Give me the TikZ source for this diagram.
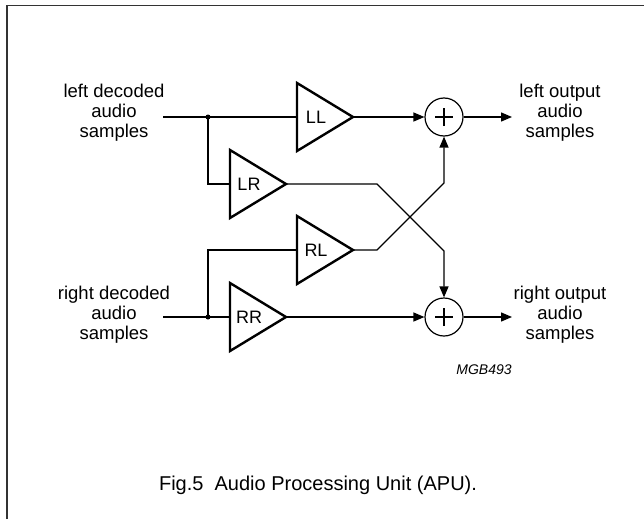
\documentclass[tikz,border=0pt]{standalone}
\usepackage{fontspec}
\setmainfont{Liberation Sans}
\usetikzlibrary{arrows.meta}
\begin{document}
\begin{tikzpicture}[x=1pt,y=-1pt,
  wire/.style={line width=1.3pt},
  ampline/.style={line width=2.4pt, line join=miter},
  arr/.style={wire,-{Triangle[length=11pt,width=9pt]}},
  dot/.style={circle,fill,inner sep=0pt,minimum size=5pt},
  sum/.style={circle,draw,line width=1.2pt,minimum size=38pt,inner sep=0pt,
    path picture={\draw[line width=1.1pt]
      ([xshift=-9pt]path picture bounding box.center) -- ([xshift=9pt]path picture bounding box.center)
      ([yshift=-9pt]path picture bounding box.center) -- ([yshift=9pt]path picture bounding box.center);}},
  lbl/.style={font=\fontsize{18.5}{20}\selectfont, align=center, inner sep=0pt},
  gainlbl/.style={font=\fontsize{18}{20}\selectfont, inner sep=0pt},
  amppic/.pic={
    \draw[ampline] (0,-34) -- (56,0) -- (0,34) -- cycle;
    \coordinate (-in) at (0,0);
    \coordinate (-out) at (56,0);
    \node[gainlbl] (-txt) at (19,0) {#1};
  }]
\useasboundingbox (0,0) rectangle (644,519);
% frame
\draw[line width=1.6pt, black!80] (7,519) -- (7,5.5) -- (644,5.5);

% amplifiers
\pic (LL) at (297,117) {amppic=LL};
\pic (LR) at (230,184) {amppic=LR};
\pic (RL) at (297,250) {amppic=RL};
\pic (RR) at (230,317) {amppic=RR};

% summing junctions
\node[sum] (S1) at (444,117) {};
\node[sum] (S2) at (444,317) {};

% junction dots
\node[dot] (J1) at (208,117) {};
\node[dot] (J2) at (208,317) {};

% inputs / outputs
\node[lbl] (inL) at (114,113) {left decoded\\audio\\samples};
\node[lbl] (inR) at (114,315) {right decoded\\audio\\samples};
\node[lbl] (outL) at (560,113) {left output\\audio\\samples};
\node[lbl] (outR) at (560,315) {right output\\audio\\samples};
\coordinate (inLe) at (163,117);
\coordinate (inRe) at (163,317);
\coordinate (outLe) at (512,117);
\coordinate (outRe) at (512,317);

\draw[wire] (inLe) -- (J1.center) -- (LL-in);
\draw[wire] (J1.center) |- (LR-in);
\draw[wire] (inRe) -- (J2.center) -- (RR-in);
\draw[wire] (J2.center) |- (RL-in);

\draw[arr] (LL-out) -- (S1.west);
\draw[arr] (RR-out) -- (S2.west);
\draw[arr] (LR-out) -- (377,184) -- (444,251) -- (S2.north);
\draw[arr] (RL-out) -- (377,250) -- (444,183) -- (S1.south);
\draw[arr] (S1.east) -- (outLe);
\draw[arr] (S2.east) -- (outRe);

\node[font=\fontsize{14}{16}\selectfont\itshape, inner sep=0pt] (code) at (484,370) {MGB493};
\node[font=\fontsize{20}{24}\selectfont, inner sep=0pt] (cap) at (318,485) {Fig.5\ \ Audio Processing Unit (APU).};
\end{tikzpicture}
\end{document}
